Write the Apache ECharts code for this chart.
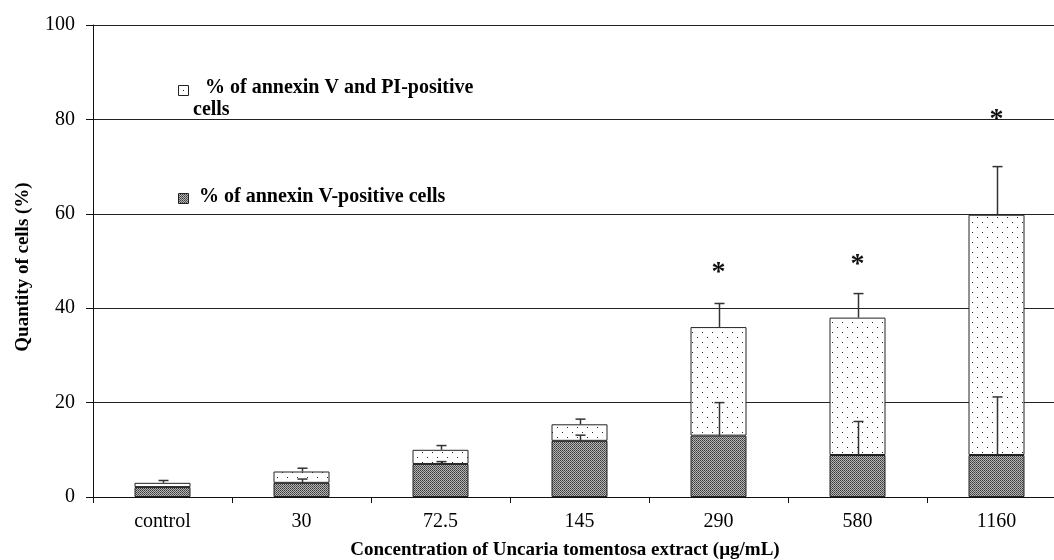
<!DOCTYPE html>
<html>
<head>
<meta charset="utf-8">
<title>Annexin V / PI</title>
<script src="https://cdn.jsdelivr.net/npm/echarts@6/dist/echarts.min.js"></script>
<style>
  body { margin: 0; background: #fff; }
  #myChart { width: 1054px; height: 560px; }
</style>
</head>
<body>
<div id="myChart"></div>
<script>
  // values
  let categories = ['control', '30', '72.5', '145', '290', '580', '1160'];
  let annexinV = [2.1, 3.0, 7.0, 11.9, 13.0, 8.9, 8.9];         // % of annexin V-positive cells
  let annexinVPI = [0.9, 2.4, 3.0, 3.5, 23.0, 29.1, 50.9];      // % of annexin V and PI-positive cells (stacked on top)
  let errTotalTop = [3.5, 6.1, 10.9, 16.5, 41.0, 43.1, 70.0];   // upper end of error bar above whole bar
  let errInnerTop = [null, 3.8, 7.5, 13.1, 20.0, 16.0, 21.2];   // upper end of error bar above annexin V part
  let stars = [null, null, null, null, 48.5, 50.2, 80.9];
  let yTicks = [0, 20, 40, 60, 80, 100];

  let nameV = '% of annexin V-positive cells';
  let nameVPI = '% of annexin V and PI-positive cells';

  function makePattern (w, h, draw) {
    let c = document.createElement('canvas');
    c.width = w;
    c.height = h;
    draw(c.getContext('2d'));
    return c;
  }

  // dark checker fill
  let darkTile = makePattern(2, 2, function (ctx) {
    ctx.fillStyle = '#b4b4b4';
    ctx.fillRect(0, 0, 2, 2);
    ctx.fillStyle = '#3a3a3a';
    ctx.fillRect(0, 0, 1, 1);
    ctx.fillStyle = '#5a5a5a';
    ctx.fillRect(1, 1, 1, 1);
  });
  // white with sparse dots
  let dotTile = makePattern(10, 10, function (ctx) {
    ctx.fillStyle = '#fff';
    ctx.fillRect(0, 0, 10, 10);
    ctx.fillStyle = '#222';
    ctx.fillRect(2, 2, 1, 1);
    ctx.fillRect(7, 7, 1, 1);
  });
  let darkFill = {image: darkTile, repeat: 'repeat'};
  let dotFill = {image: dotTile, repeat: 'repeat'};

  let totals = annexinV.map(function (v, i) { return v + annexinVPI[i]; });

  let outerErr = [];
  let innerErr = [];
  let starData = [];
  for (let i = 0; i < categories.length; i++) {
    if (errTotalTop[i] != null) outerErr.push([i, totals[i], errTotalTop[i]]);
    if (errInnerTop[i] != null) innerErr.push([i, annexinV[i], errInnerTop[i]]);
    if (stars[i] != null) starData.push([i, stars[i]]);
  }

  function renderErr (params, api) {
    let low = api.coord([api.value(0), api.value(1)]);
    let high = api.coord([api.value(0), api.value(2)]);
    let x = Math.round(low[0]) + 0.5;
    let style = {stroke: '#333', lineWidth: 1.5};
    return {
      type: 'group',
      children: [
        {type: 'line', shape: {x1: x, y1: low[1], x2: x, y2: high[1]}, style: style},
        {type: 'line', shape: {x1: x - 5, y1: high[1], x2: x + 5, y2: high[1]}, style: style}
      ]
    };
  }

  // the asterisk glyph sits high in its box, so push it down a little
  function renderStar (params, api) {
    let p = api.coord([api.value(0), api.value(1)]);
    return {
      type: 'text',
      x: p[0],
      y: p[1] + 5,
      style: {
        text: '*',
        font: 'bold 28px "Liberation Serif"',
        fill: '#111',
        align: 'center',
        verticalAlign: 'middle'
      }
    };
  }

  let serif = '"Liberation Serif", "Times New Roman", serif';

  let option = {
    animation: false,
    grid: {left: 93, right: -12, top: 25, bottom: 63, outerBoundsMode: 'none'},
    xAxis: {
      type: 'category',
      data: categories,
      name: 'Concentration of Uncaria tomentosa extract (µg/mL)',
      nameLocation: 'middle',
      nameGap: 44,
      nameTextStyle: {fontFamily: serif, fontWeight: 'bold', fontSize: 19, color: '#000', padding: [0, 29, 0, 0]},
      axisLine: {lineStyle: {color: '#111', width: 1}},
      axisTick: {show: true, length: 6, lineStyle: {color: '#111'}},
      axisLabel: {fontFamily: serif, fontSize: 20, color: '#000', margin: 15},
      splitLine: {show: false}
    },
    yAxis: {
      type: 'value',
      min: yTicks[0],
      max: yTicks[yTicks.length - 1],
      interval: 20,
      name: 'Quantity of cells (%)',
      nameLocation: 'middle',
      nameGap: 60,
      nameRotate: 90,
      nameTextStyle: {fontFamily: serif, fontWeight: 'bold', fontSize: 19, color: '#000', padding: [0, 12, 0, 0]},
      axisLine: {show: true, lineStyle: {color: '#111', width: 1}},
      axisTick: {show: true, length: 7, lineStyle: {color: '#111'}},
      axisLabel: {fontFamily: serif, fontSize: 20, color: '#000', margin: 18},
      splitLine: {lineStyle: {color: '#222', width: 1}}
    },
    series: [
      {
        name: nameV,
        type: 'bar',
        stack: 'cells',
        barWidth: 56,
        data: annexinV,
        itemStyle: {color: darkFill, borderColor: '#222', borderWidth: 1}
      },
      {
        name: nameVPI,
        type: 'bar',
        stack: 'cells',
        barWidth: 56,
        data: annexinVPI,
        itemStyle: {color: dotFill, borderColor: '#222', borderWidth: 1}
      },
      {
        type: 'custom',
        z: 5,
        renderItem: renderErr,
        data: outerErr
      },
      {
        type: 'custom',
        z: 5,
        renderItem: renderErr,
        data: innerErr
      },
      {
        type: 'custom',
        z: 5,
        renderItem: renderStar,
        data: starData
      }
    ],
    // legend box painted over the grid lines, as in the original
    graphic: [
      {
        type: 'group',
        z: 100,
        children: [
          {type: 'rect', shape: {x: 152, y: 50, width: 349, height: 190}, style: {fill: '#fff'}},
          {type: 'rect', shape: {x: 178.5, y: 85.5, width: 10, height: 10}, style: {fill: '#fff', stroke: '#222', lineWidth: 1}},
          {type: 'rect', shape: {x: 183, y: 90, width: 1, height: 1}, style: {fill: '#222'}},
          {type: 'text', x: 205, y: 88, style: {text: nameVPI.replace(' cells', ''), font: 'bold 20px ' + serif, fill: '#000', verticalAlign: 'middle'}},
          {type: 'text', x: 193, y: 110, style: {text: 'cells', font: 'bold 20px ' + serif, fill: '#000', verticalAlign: 'middle'}},
          {type: 'rect', shape: {x: 178.5, y: 193.5, width: 10, height: 10}, style: {fill: darkFill, stroke: '#222', lineWidth: 1}},
          {type: 'text', x: 199, y: 197, style: {text: nameV, font: 'bold 20px ' + serif, fill: '#000', verticalAlign: 'middle'}}
        ]
      }
    ]
  };

  let myChart = echarts.init(document.getElementById('myChart'));
  myChart.setOption(option);
</script>
</body>
</html>
